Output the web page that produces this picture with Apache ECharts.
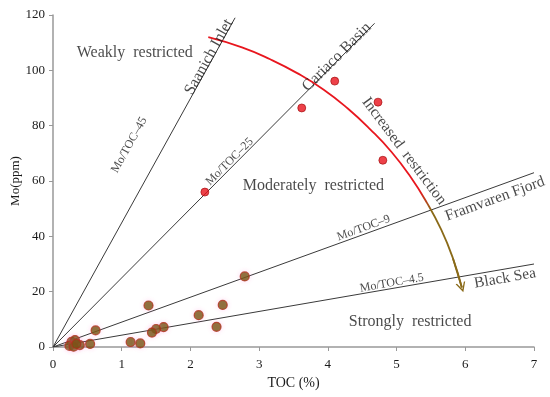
<!DOCTYPE html>
<html>
<head>
<meta charset="utf-8">
<script src="https://cdn.jsdelivr.net/npm/echarts@6/dist/echarts.min.js"></script>
<style>html,body{margin:0;padding:0;background:#fff;}#c{width:550px;height:397px;}</style>
</head>
<body>
<div id="c"></div>
<script>
// ---- data ----
var xTicks = [0, 1, 2, 3, 4, 5, 6, 7];
var yTicks = [0, 20, 40, 60, 80, 100, 120];
// red samples (TOC %, Mo ppm)
var redPoints = [[2.21, 56], [3.62, 86.4], [4.10, 96.1], [4.73, 88.5], [4.80, 67.5]];
// brown samples (TOC %, Mo ppm)
var brownPoints = [
  [2.79, 25.5], [1.39, 15.0], [2.47, 15.2], [2.12, 11.5], [2.38, 7.3],
  [1.61, 7.2], [1.50, 6.5], [1.44, 5.2], [1.13, 1.8], [1.27, 1.3],
  [0.62, 6.0], [0.54, 1.1], [0.39, 0.7], [0.27, 1.9], [0.32, 2.5],
  [0.24, 0.4], [0.30, 0.1], [0.34, 1.1]
];
// Mo/TOC reference lines: [start, end] in (TOC, Mo)
var ratioNames = ['Mo/TOC–45', 'Mo/TOC–25', 'Mo/TOC–9', 'Mo/TOC–4.5'];
var ratioLines = [
  [[0, 0], [2.65, 119]],
  [[0, 0], [4.68, 117]],
  [[0, 0], [7, 63]],
  [[0, 0], [7, 30]]
];
// "Increased restriction" arc (TOC, Mo)
var arcPoints = [
  [2.26, 112.0], [2.75, 108.3], [3.16, 104.0], [3.56, 98.9], [3.94, 93.0],
  [4.29, 86.2], [4.62, 78.6], [4.93, 70.4], [5.20, 61.6], [5.44, 52.2],
  [5.65, 42.4], [5.82, 32.1], [5.95, 21.5]
];
// annotations: text, anchor (TOC, Mo), rotation deg, font size
var annText = ['Weakly  restricted', 'Moderately  restricted', 'Strongly  restricted',
  'Saanich Inlet', 'Mo/TOC–45', 'Cariaco Basin', 'Mo/TOC–25', 'Increased  restriction',
  'Mo/TOC–9', 'Framvaren Fjord', 'Mo/TOC–4.5', 'Black Sea'];
var annPos = [[1.19, 106.3], [3.79, 58.2], [5.197, 9.0],
  [2.27, 104.8], [1.11, 73.0], [4.13, 104.8], [2.57, 67.0], [5.109, 70.8],
  [4.52, 43.0], [6.434, 53.5], [4.93, 23.1], [6.579, 24.8]];
var annRot = [0, 0, 0, 61, 61, 45, 45, -53, 20, 20, 10, 10];
var annSize = [16, 16, 16, 16, 12, 16, 12, 15.5, 12, 15.5, 12, 15.5];

var FONT = '"Liberation Serif", "Times New Roman", serif';
var BROWN = '#8a6a18';

var series = [];
ratioLines.forEach(function (seg, i) {
  series.push({
    name: ratioNames[i], type: 'line', data: seg, symbol: 'none', silent: true,
    lineStyle: { color: '#3a3a3a', width: 1 }, z: 2
  });
});
series.push({
  type: 'line', data: arcPoints, symbol: 'none', smooth: true, silent: true, z: 3,
  lineStyle: {
    width: 1.8,
    color: new echarts.graphic.LinearGradient(0, 0, 0, 1, [
      { offset: 0, color: '#e8161e' }, { offset: 0.61, color: '#e8161e' },
      { offset: 0.69, color: BROWN }, { offset: 1, color: BROWN }
    ])
  }
});
series.push({
  type: 'lines', coordinateSystem: 'cartesian2d', silent: true, z: 4,
  symbol: ['none', 'path://M0,10 L5,0 L10,10 L8.6,10 L5,3.2 L1.4,10 Z'],
  symbolSize: 10,
  lineStyle: { color: BROWN, width: 1.8, opacity: 1 },
  data: [{ coords: [arcPoints[arcPoints.length - 2], arcPoints[arcPoints.length - 1]] }]
});
series.push({
  type: 'scatter', data: brownPoints, symbolSize: 9, z: 5,
  itemStyle: { color: '#6f5209', borderColor: '#b0301a', borderWidth: 1.2,
    shadowBlur: 5, shadowColor: 'rgba(255,120,210,0.3)' }
});
series.push({
  type: 'scatter', data: redPoints, symbolSize: 8, z: 5,
  itemStyle: { color: '#e8121c', borderColor: '#9c0a0a', borderWidth: 0.8 }
});
series.push({
  type: 'scatter', silent: true, z: 6, symbolSize: 1,
  itemStyle: { color: 'rgba(0,0,0,0)' },
  data: annText.map(function (t, i) {
    return {
      name: t, value: annPos[i],
      label: { rotate: annRot[i], fontSize: annSize[i] }
    };
  }),
  label: {
    show: true, position: 'inside', formatter: '{b}', color: '#1a1a1a',
    fontFamily: FONT, align: 'center', verticalAlign: 'middle'
  }
});

var chart = echarts.init(document.getElementById('c'), null, { renderer: 'canvas' });
chart.setOption({
  animation: false,
  backgroundColor: '#fff',
  grid: { left: 53, right: 16, top: 15, bottom: 50, containLabel: false, outerBoundsMode: 'none' },
  xAxis: {
    type: 'value', min: xTicks[0], max: xTicks[xTicks.length - 1], interval: 1,
    name: 'TOC (%)', nameLocation: 'middle', nameGap: 29, nameMoveOverlap: false,
    nameTextStyle: { fontFamily: FONT, fontSize: 14, color: '#1a1a1a' },
    axisLine: { show: true, onZero: false, lineStyle: { color: '#999', width: 1.5 } },
    axisTick: { show: true, length: 4, lineStyle: { color: '#999' } },
    axisLabel: { fontFamily: FONT, fontSize: 13, color: '#1a1a1a', margin: 11 },
    splitLine: { show: false }
  },
  yAxis: {
    type: 'value', min: yTicks[0], max: yTicks[yTicks.length - 1], interval: 20,
    name: 'Mo(ppm)', nameLocation: 'middle', nameGap: 31, nameMoveOverlap: false,
    nameTextStyle: { fontFamily: FONT, fontSize: 13, color: '#1a1a1a' },
    axisLine: { show: true, onZero: false, lineStyle: { color: '#999', width: 1.5 } },
    axisTick: { show: true, length: 4, lineStyle: { color: '#999' } },
    axisLabel: { fontFamily: FONT, fontSize: 13, color: '#1a1a1a', margin: 8 },
    splitLine: { show: false }
  },
  series: series
});
</script>
</body>
</html>
